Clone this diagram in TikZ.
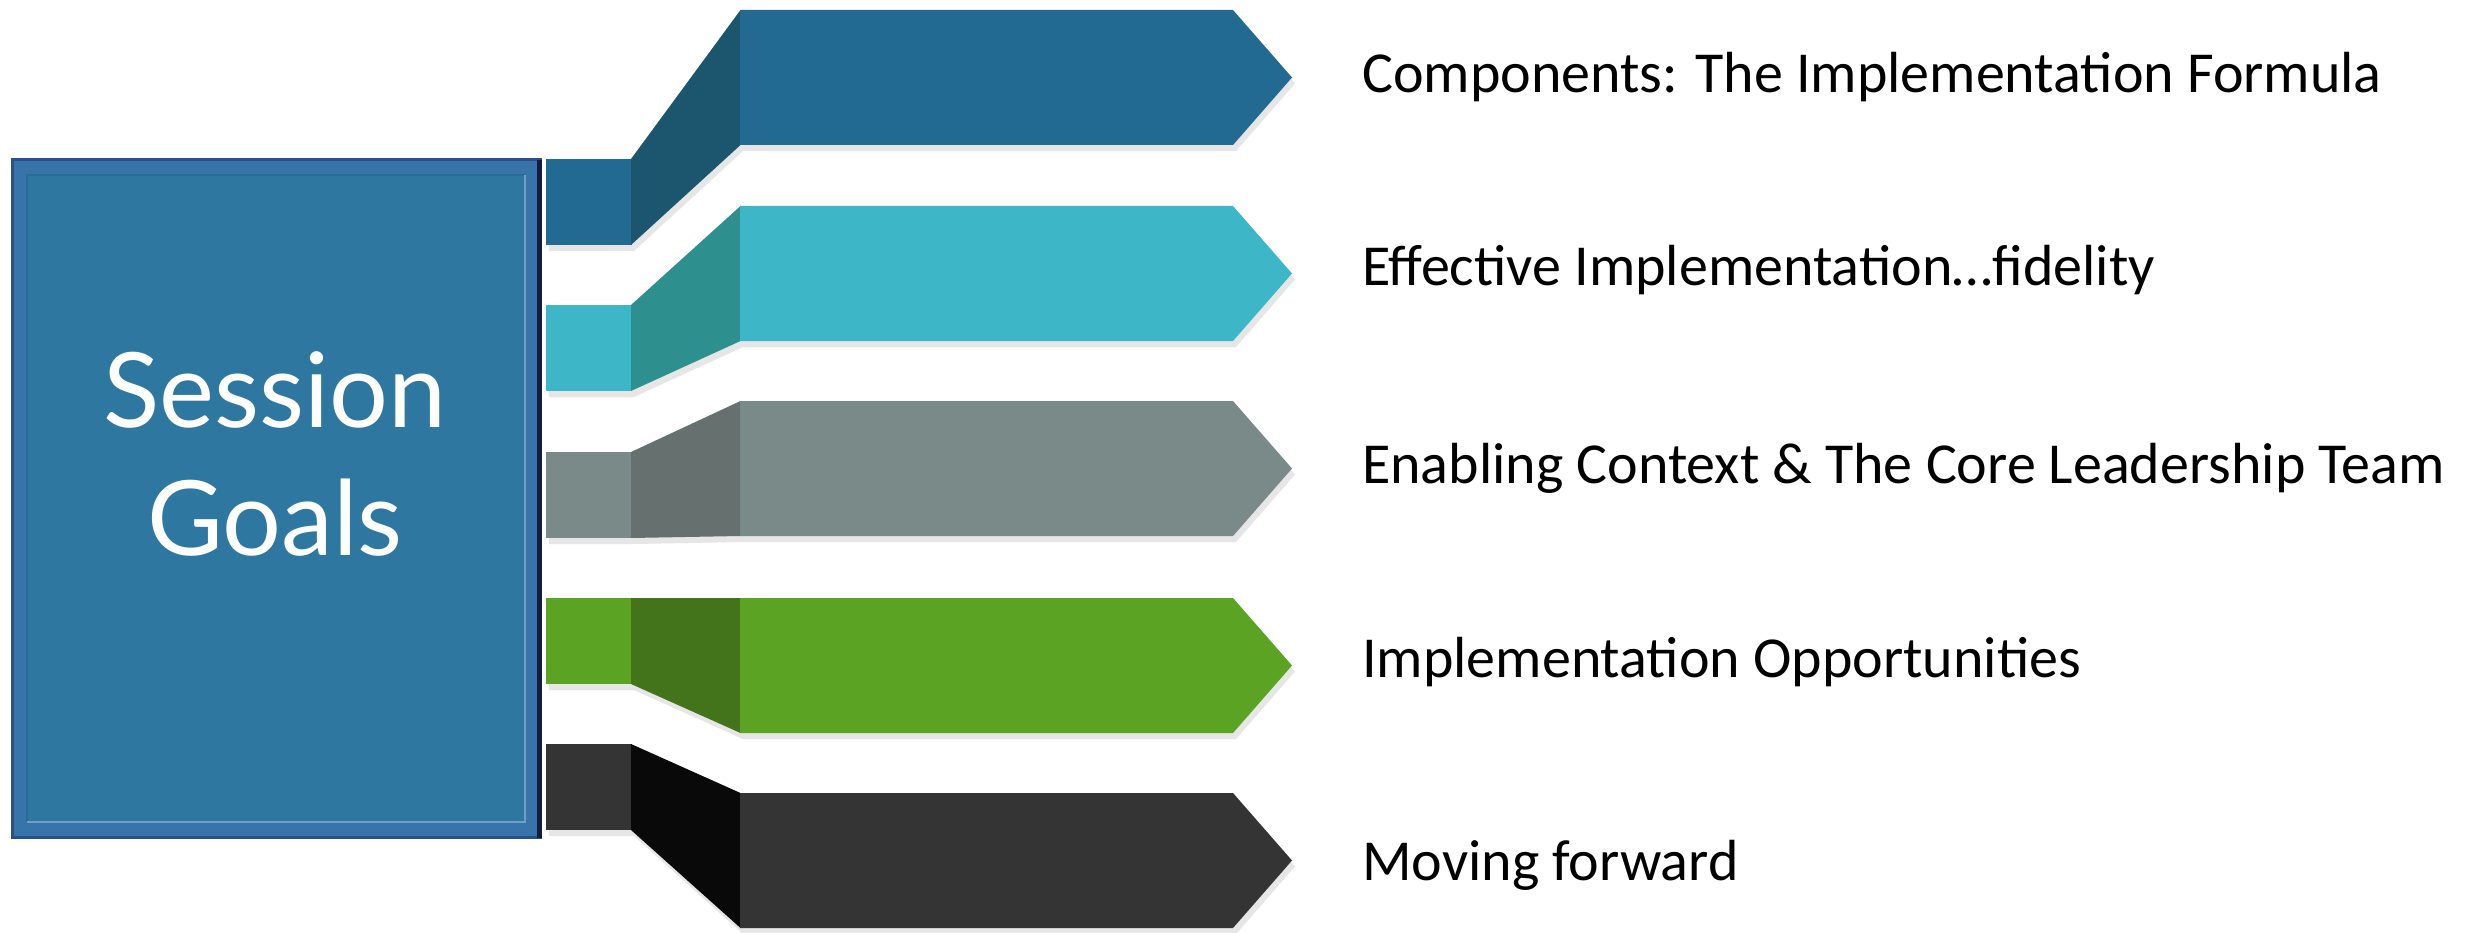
\documentclass[tikz,border=0pt]{standalone}
\usepackage{fontspec}
\setmainfont{Carlito}
\newfontfamily\titlefont{Lato}
\definecolor{bAmain}{HTML}{236A92}
\definecolor{bAslant}{HTML}{1C566E}
\definecolor{bBmain}{HTML}{3DB7C7}
\definecolor{bBslant}{HTML}{2E8F8F}
\definecolor{bCmain}{HTML}{7A8A89}
\definecolor{bCslant}{HTML}{66716F}
\definecolor{bDmain}{HTML}{5BA323}
\definecolor{bDslant}{HTML}{43731A}
\definecolor{bEmain}{HTML}{343434}
\definecolor{bEslant}{HTML}{090909}
\definecolor{shadowc}{HTML}{E6E6E6}
\definecolor{boxfill}{HTML}{2E77A0}
\definecolor{boxframe}{HTML}{3774AA}
\definecolor{boxline}{HTML}{2C4E8A}
\definecolor{boxedge}{HTML}{101E3C}
\definecolor{boxinner}{HTML}{2A6A95}
\tikzset{
  itemtext/.style={font=\fontsize{58}{70}\selectfont, text=black, inner sep=0pt, anchor=base west},
  titletext/.style={font=\titlefont\fontsize{104}{120}\selectfont, text=white, inner sep=0pt, anchor=base},
}
\begin{document}
\begin{tikzpicture}[x=1pt,y=-1pt]
\useasboundingbox (0,0) rectangle (2478,933);
\fill[white] (0,0) rectangle (2478,933);
% Session Goals box
\fill[boxframe] (12,160) rectangle (540,837);
\draw[boxline, line width=3pt] (12,160) rectangle (540,837);
\draw[boxedge, line width=5pt] (539,160) -- (539,838);
\fill[boxfill] (27,175) rectangle (525,822);
\draw[boxinner, line width=2.5pt] (27,822) -- (27,175) -- (525,175);
\draw[boxframe!70!white, line width=2pt] (27,822) -- (525,822) -- (525,175);
\node[titletext] (s1) at (275,427) {Session};
\node[titletext] (s2) at (275,555) {Goals};
% bars
\foreach \st/\mt/\cm/\cs in {159/10/bAmain/bAslant, 305/206/bBmain/bBslant, 452/401/bCmain/bCslant, 598/598/bDmain/bDslant, 744/793/bEmain/bEslant}{
  \pgfmathsetmacro\sb{\st+86}
  \pgfmathsetmacro\mb{\mt+135}
  \pgfmathsetmacro\mm{\mt+67.5}
  \begin{scope}[shift={(3,6)}]
    \fill[shadowc] (546,\st) -- (631,\st) -- (740,\mt) -- (1233,\mt) -- (1292,\mm) -- (1233,\mb) -- (740,\mb) -- (631,\sb) -- (546,\sb) -- cycle;
  \end{scope}
  \fill[\cm] (546,\st) rectangle (631.5,\sb);
  \fill[\cs] (631,\st) -- (740.5,\mt) -- (740.5,\mb) -- (631,\sb) -- cycle;
  \fill[\cm] (740,\mt) -- (1233,\mt) -- (1292,\mm) -- (1233,\mb) -- (740,\mb) -- cycle;
}
% texts
\node[itemtext] (t1) at (1362,93) {Components: The Implementation Formula};
\node[itemtext] (t2) at (1362,286) {Effective Implementation…fidelity};
\node[itemtext] (t3) at (1362,483) {Enabling Context \& The Core Leadership Team};
\node[itemtext] (t4) at (1362,677) {Implementation Opportunities};
\node[itemtext] (t5) at (1362,880) {Moving forward};
\end{tikzpicture}
\end{document}
